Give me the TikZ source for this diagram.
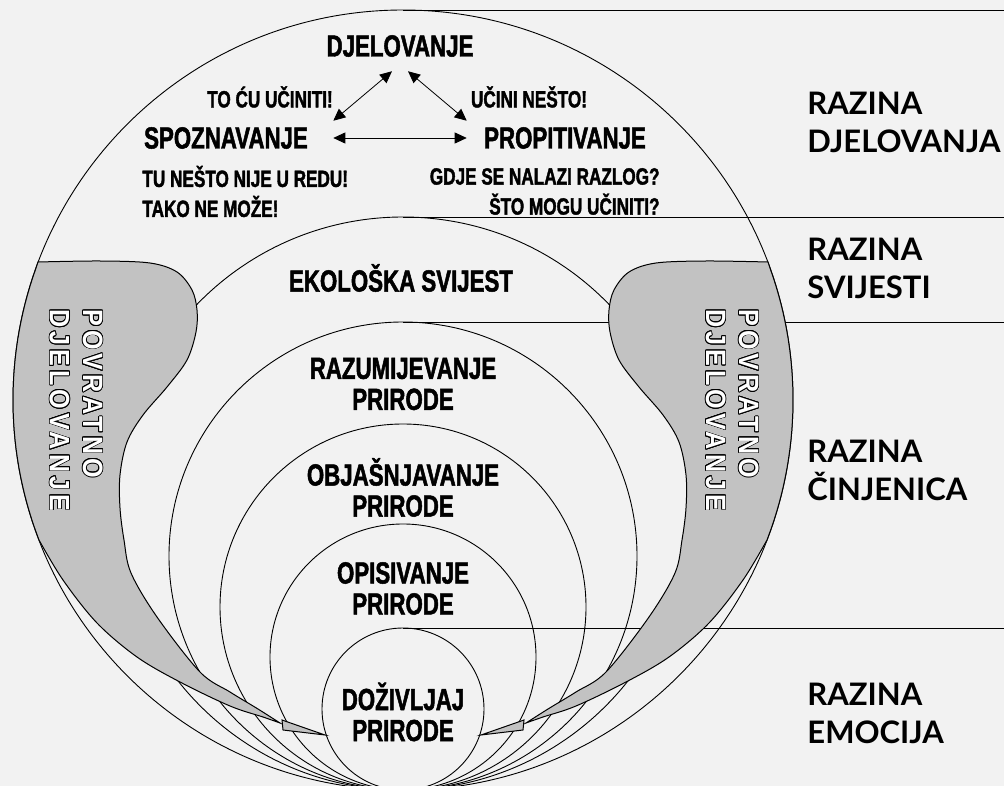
\documentclass[tikz,border=0pt]{standalone}
\usepackage{fontspec}
\usepackage{contour}
\usetikzlibrary{arrows.meta}
\newfontfamily\condfont[FakeStretch=0.73,FakeBold=1.6,UprightFont={* Bold}]{Liberation Sans}
\newfontfamily\levelfont[UprightFont={* Bold}]{Lato}
\newfontfamily\hollowfont[LetterSpace=14,FakeStretch=0.9,UprightFont={* Bold}]{Liberation Sans}
\contourlength{0.8pt}

\begin{document}
\begin{tikzpicture}[x=1pt, y=-1pt, line width=0.9pt,
  every node/.style={inner sep=2pt},
  bigtext/.style={font=\condfont\fontsize{30.5}{31}\selectfont, align=center},
  smalltext/.style={font=\condfont\fontsize{23.5}{30}\selectfont},
  level/.style={font=\levelfont\fontsize{31}{38}\selectfont, align=left, anchor=north west, inner sep=0pt},
  feedback/.style={fill=black!24, draw=black, line width=1pt},
  hollow/.style={font=\hollowfont\fontsize{28}{33}\selectfont, text=white, align=left, rotate=-90, anchor=north west, inner sep=0pt},
  dbl/.style={{Triangle[length=12pt,width=11pt]}-{Triangle[length=12pt,width=11pt]}, line width=0.8pt}]
  \useasboundingbox (0,0) rectangle (1004,786);
  \fill[black!5] (0,0) rectangle (1004,786);

  % circles, all touching at the bottom
  \foreach \r in {390,286.5,234,183,133,81}
    \draw (403,{790-\r}) circle[radius=\r];

  % level borders
  \foreach \yy in {10,217,322,628}
    \draw (403,\yy) -- (1004,\yy);

  % feedback bands, left one and its mirror image
  \foreach \s/\o in {1/0,-1/806} {
    \begin{scope}[shift={(\o,0)}, xscale=\s]
      \filldraw[feedback] plot[smooth, tension=0.55] coordinates {(38,262) (100,261) (150,263) (177,272) (192,290) (197,310) (196,332) (187,360) (167,387) (143,415) (127,442) (120,475) (120,508) (124,540) (131,573) (157,617) (200,672) (230,692) (258,709) (280,723)}
        -- plot[smooth, tension=0.55] coordinates {(280,723) (263,717) (230,706) (180,682) (137,657) (97,623) (63,580) (39,540)}
        -- plot[domain=160.6:199.7, samples=30] ({403+390*cos(\x)},{400+390*sin(\x)}) -- cycle;
      \filldraw[feedback] (282,720) -- (283,730) -- (325,735) -- cycle;
    \end{scope}
  }
  \node[hollow] (fbl) at (103,309) {\contour{black}{POVRATNO}\\\contour{black}{DJELOVANJE}};
  \node[hollow] (fbr) at (759,309) {\contour{black}{POVRATNO}\\\contour{black}{DJELOVANJE}};

  % top triangle
  \node[bigtext] (djel) at (400,46) {DJELOVANJE};
  \node[smalltext] (cu) at (270,97) {TO ĆU UČINITI!};
  \node[smalltext] (ucini) at (529,97) {UČINI NEŠTO!};
  \node[bigtext] (spoz) at (226,138) {SPOZNAVANJE};
  \node[bigtext] (prop) at (565,138) {PROPITIVANJE};
  \node[smalltext, anchor=west, align=left] (redu) at (140,191.5) {TU NEŠTO NIJE U REDU!\\TAKO NE MOŽE!};
  \node[smalltext, anchor=east, align=right] (razlog) at (662,191.5) {GDJE SE NALAZI RAZLOG?\\ŠTO MOGU UČINITI?};
  \draw[dbl] ([xshift=-8pt,yshift=-12pt]djel.south) -- ([xshift=23pt,yshift=4pt]spoz.north east);
  \draw[dbl] ([xshift=8pt,yshift=-12pt]djel.south) -- ([xshift=-15pt,yshift=4pt]prop.north west);
  \draw[dbl, shorten <=23pt, shorten >=15pt] (spoz.east) -- (prop.west);

  % inside the circles
  \node[bigtext] (eko) at (401,278) {EKOLOŠKA SVIJEST};
  \node[bigtext] (razu) at (403,384) {RAZUMIJEVANJE\\PRIRODE};
  \node[bigtext] (obja) at (403,487.5) {OBJAŠNJAVANJE\\PRIRODE};
  \node[bigtext] (opis) at (403,588.5) {OPISIVANJE\\PRIRODE};
  \node[bigtext] (dozi) at (403,712) {DOŽIVLJAJ\\PRIRODE};

  % levels
  \node[level] (lvlact) at (807,92) {RAZINA\\DJELOVANJA};
  \node[level] (lvlcon) at (807,238) {RAZINA\\SVIJESTI};
  \node[level] (lvlfac) at (807,440) {RAZINA\\ČINJENICA};
  \node[level] (lvlemo) at (807,683) {RAZINA\\EMOCIJA};
\end{tikzpicture}
\end{document}
